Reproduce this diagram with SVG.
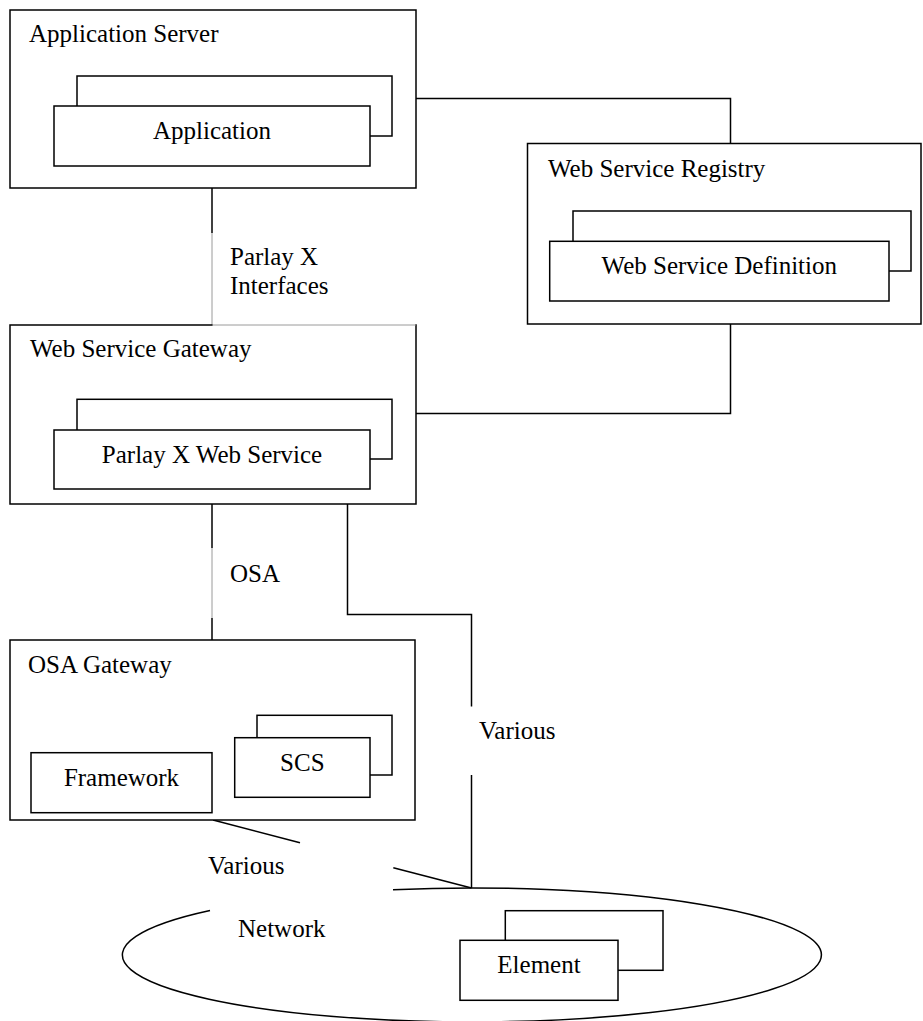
<svg xmlns="http://www.w3.org/2000/svg" width="923" height="1021" viewBox="0 0 923 1021">
<style>
.box{fill:#fff;stroke:#000;stroke-width:1.5}
.ln{fill:none;stroke:#000;stroke-width:1.5}
.faint{fill:none;stroke:#9a9a9a;stroke-width:1}
text{font-family:"Liberation Serif","Times New Roman",serif;font-size:25px;fill:#000}
.c{text-anchor:middle}
</style>
<rect width="923" height="1021" fill="#fff"/>
<g id="connectors">
<polyline class="ln" points="416,98.5 730.5,98.5 730.5,143.5"/>
<polyline class="ln" points="730.5,324 730.5,413.5 416,413.5"/>
<line class="ln" x1="212" y1="188" x2="212" y2="233"/>
<line class="faint" x1="212" y1="233" x2="212" y2="325"/>
<line class="ln" x1="212" y1="504" x2="212" y2="548"/>
<line class="faint" x1="212" y1="548" x2="212" y2="618"/>
<line class="ln" x1="212" y1="618" x2="212" y2="640"/>
<polyline class="ln" points="347.5,504 347.5,614.5 471.5,614.5 471.5,706.5"/>
<line class="ln" x1="471.5" y1="775" x2="471.5" y2="888"/>
<line class="ln" x1="213" y1="820" x2="300" y2="842.7"/>
<line class="ln" x1="393.3" y1="867.7" x2="471.5" y2="888"/>
</g>
<g id="app-server">
<rect class="box" x="10" y="10" width="406" height="178"/>
<text x="29" y="42">Application Server</text>
<rect class="box" x="77" y="76" width="315" height="60"/>
<rect class="box" x="54" y="106" width="316" height="60"/>
<text class="c" x="212" y="139">Application</text>
</g>
<g id="registry">
<rect class="box" x="527.5" y="143.5" width="393.5" height="180.5"/>
<text x="548" y="176.7">Web Service Registry</text>
<rect class="box" x="573" y="211" width="338" height="60"/>
<rect class="box" x="549.7" y="241.3" width="339.3" height="59.7"/>
<text class="c" x="719.3" y="274">Web Service Definition</text>
</g>
<g id="ws-gateway">
<rect class="box" x="10" y="325" width="406" height="179"/>
<line class="faint" x1="212.7" y1="325" x2="415.3" y2="325" stroke="#fff" style="stroke:#fff;stroke-width:2"/>
<line class="faint" x1="212.7" y1="325" x2="415.3" y2="325"/>
<text x="30" y="357.3">Web Service Gateway</text>
<rect class="box" x="77" y="399.3" width="315" height="59.7"/>
<rect class="box" x="54" y="430" width="316" height="59"/>
<text class="c" x="212" y="462.5">Parlay X Web Service</text>
</g>
<g id="parlay-label">
<text x="230" y="265">Parlay X</text>
<text x="230" y="294.3">Interfaces</text>
</g>
<g id="osa-label">
<text x="230" y="581.7">OSA</text>
</g>
<g id="osa-gateway">
<rect class="box" x="10" y="640" width="405" height="180"/>
<text x="28" y="672.7">OSA Gateway</text>
<rect class="box" x="31" y="752.7" width="181" height="60"/>
<text class="c" x="121.5" y="785.7">Framework</text>
<rect class="box" x="257" y="715.3" width="135" height="59.7"/>
<rect class="box" x="234.7" y="737.7" width="135.3" height="59.6"/>
<text class="c" x="302.3" y="770.7">SCS</text>
</g>
<g id="various-right">
<text x="479" y="739.3">Various</text>
</g>
<g id="various-left">
<text x="208" y="874">Various</text>
</g>
<g id="network">
<path class="ln" d="M 393 889.7 A 349.5 67 0 1 1 210 910.6"/>
<text x="238" y="936.7">Network</text>
<rect class="box" x="505.3" y="910.7" width="157.7" height="59.6"/>
<rect class="box" x="460" y="940.3" width="158" height="60"/>
<text class="c" x="539" y="973.3">Element</text>
</g>
</svg>
